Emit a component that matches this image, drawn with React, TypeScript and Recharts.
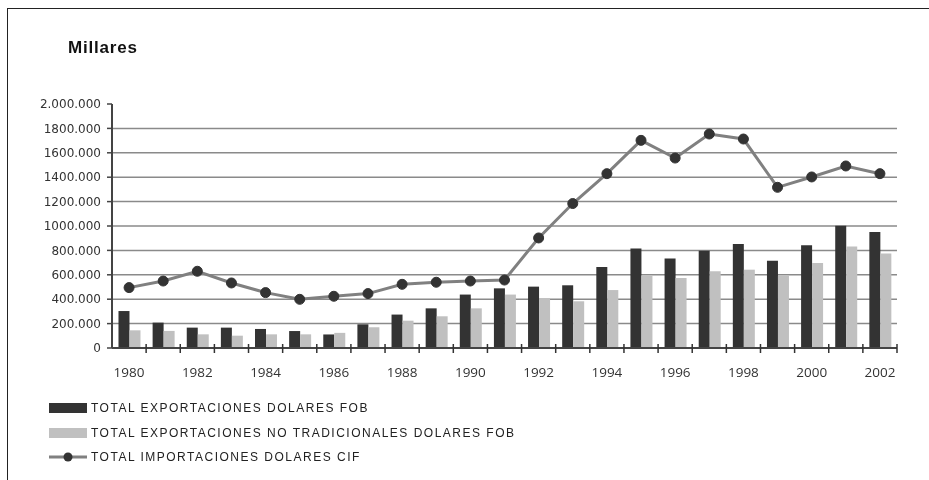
import React from 'react';
import { ComposedChart, Bar, Line, XAxis, YAxis, CartesianGrid, Legend } from 'recharts';

const years = ['1980', '1981', '1982', '1983', '1984', '1985', '1986', '1987', '1988', '1989', '1990', '1991',
    '1992', '1993', '1994', '1995', '1996', '1997', '1998', '1999', '2000', '2001', '2002'];

const exportsFob = [303000, 208000, 167000, 167000, 156000, 139000, 111000, 194000, 274000, 325000, 438000, 489000,
    503000, 514000, 664000, 815000, 733000, 798000, 852000, 716000, 842000, 1003000, 951000];

const exportsNoTrad = [145000, 140000, 112000, 101000, 112000, 112000, 124000, 170000, 224000, 260000, 325000, 438000,
    405000, 383000, 475000, 596000, 574000, 629000, 642000, 596000, 697000, 831000, 774000];

const importsCif = [495000, 549000, 629000, 533000, 454000, 399000, 424000, 446000, 522000, 539000, 549000, 557000,
    902000, 1184000, 1429000, 1702000, 1557000, 1754000, 1713000, 1317000, 1402000, 1492000, 1429000];

const yTicks = [0, 200000, 400000, 600000, 800000, 1000000, 1200000, 1400000, 1600000, 1800000, 2000000];
const yTickLabels = ['0', '200.000', '400.000', '600.000', '800.000', '1000.000', '1200.000', '1400.000',
    '1600.000', '1800.000', '2.000.000'];
const gridValues = yTicks.slice(1, -1);

const seriesNames = {
    fob: 'TOTAL EXPORTACIONES DOLARES FOB',
    noTrad: 'TOTAL EXPORTACIONES NO TRADICIONALES DOLARES FOB',
    cif: 'TOTAL IMPORTACIONES DOLARES CIF',
};

const DARK = '#333333';
const LIGHT = '#c0c0c0';
const LINE = '#808080';

const data = years.map((year, i) => ({
    year,
    fob: exportsFob[i],
    noTrad: exportsNoTrad[i],
    cif: importsCif[i],
}));

const YearTick = (props: any) => {
    const { x, y, payload, index } = props;
    const half = payload && payload.offset ? payload.offset : 0;
    return (
        <g>
            {index > 0 && (
                <line x1={x - half} x2={x - half} y1={y - 4} y2={y + 5} stroke="#333" strokeWidth={1.5} />
            )}
            {index === years.length - 1 && (
                <line x1={x + half} x2={x + half} y1={y - 4} y2={y + 5} stroke="#333" strokeWidth={1.5} />
            )}
            {index % 2 === 0 && (
                <text x={x} y={y + 29} textAnchor="middle" fill="#333" fontSize={13.5}
                    fontFamily="'Open Sans', sans-serif">
                    {payload.value}
                </text>
            )}
        </g>
    );
};

const legendText: React.CSSProperties = {
    fontFamily: "'Liberation Sans', Arial, sans-serif",
    fontSize: 12,
    letterSpacing: 1.5,
    color: '#222',
    marginLeft: 4,
};

const renderLegend = () => (
    <div>
        <div style={{ display: 'flex', alignItems: 'center', height: 24.5 }}>
            <div style={{ width: 38, height: 10, background: DARK }} />
            <span style={legendText}>{seriesNames.fob}</span>
        </div>
        <div style={{ display: 'flex', alignItems: 'center', height: 24.5 }}>
            <div style={{ width: 38, height: 10, background: LIGHT }} />
            <span style={legendText}>{seriesNames.noTrad}</span>
        </div>
        <div style={{ display: 'flex', alignItems: 'center', height: 24.5 }}>
            <svg width={38} height={12}>
                <line x1={0} x2={38} y1={6} y2={6} stroke={LINE} strokeWidth={3} />
                <circle cx={19} cy={6} r={4.5} fill={DARK} />
            </svg>
            <span style={legendText}>{seriesNames.cif}</span>
        </div>
    </div>
);

export default function App() {
    return (
        <div style={{ position: 'relative', width: 913, height: 464 }}>
            <div style={{
                position: 'fixed', left: 7, top: 8, width: 922, height: 472,
                borderTop: '1.5px solid #222', borderLeft: '1.5px solid #222',
            }} />
            <div style={{
                position: 'absolute', left: 60, top: 31, fontFamily: "'Liberation Sans', Arial, sans-serif",
                fontWeight: 'bold', fontSize: 17, letterSpacing: 0.8, lineHeight: 1, color: '#111',
            }}>
                Millares
            </div>
            <ComposedChart
                width={913}
                height={464}
                data={data}
                margin={{ top: 96, right: 24, left: 8, bottom: 94 }}
                barGap={0}
                barCategoryGap="19%"
            >
                <CartesianGrid vertical={false} horizontalValues={gridValues} stroke="#8a8a8a" strokeWidth={1.5} />
                <XAxis
                    dataKey="year"
                    interval={0}
                    height={30}
                    tickSize={0}
                    tickMargin={0}
                    tickLine={false}
                    tick={<YearTick />}
                    axisLine={{ stroke: '#444', strokeWidth: 2 }}
                />
                <YAxis
                    domain={[0, 2000000]}
                    ticks={yTicks}
                    interval={0}
                    width={96}
                    tickSize={5}
                    tickMargin={6}
                    tickFormatter={(v: number) => yTickLabels[yTicks.indexOf(v)]}
                    tick={{ fill: '#333', fontSize: 12, fontFamily: "'DejaVu Sans', sans-serif" }}
                    axisLine={{ stroke: '#444', strokeWidth: 2 }}
                    tickLine={{ stroke: '#444', strokeWidth: 1.5 }}
                />
                <Bar dataKey="fob" name={seriesNames.fob} fill={DARK} isAnimationActive={false} />
                <Bar dataKey="noTrad" name={seriesNames.noTrad} fill={LIGHT} isAnimationActive={false} />
                <Line
                    dataKey="cif"
                    name={seriesNames.cif}
                    stroke={LINE}
                    strokeWidth={3}
                    dot={{ r: 5, fill: DARK, stroke: DARK, strokeWidth: 1 }}
                    isAnimationActive={false}
                />
                <Legend
                    content={renderLegend}
                    layout="horizontal"
                    verticalAlign="middle"
                    align="center"
                    wrapperStyle={{ position: 'absolute', left: 41, top: 388, width: 600 }}
                />
            </ComposedChart>
        </div>
    );
}
